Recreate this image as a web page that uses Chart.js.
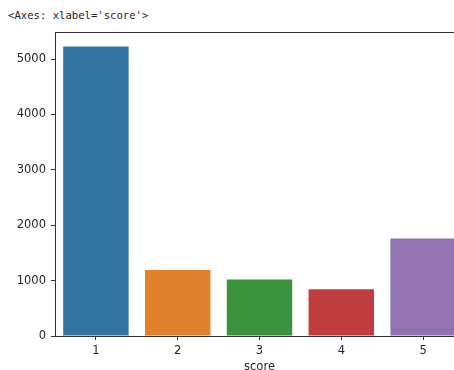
<!DOCTYPE html>
<html>
<head>
<meta charset="utf-8">
<script src="https://cdn.jsdelivr.net/npm/chart.js@4"></script>
<style>
  html, body { margin: 0; padding: 0; background: #fff; overflow: hidden; width: 454px; height: 370px; }
  #cap { position: absolute; left: 8px; top: 9px; font: 10.6px "DejaVu Sans Mono", monospace; color: #222; white-space: pre; }
  #wrap { position: absolute; left: 0; top: 0; width: 475px; height: 370px; }
</style>
</head>
<body>
<div id="cap">&lt;Axes: xlabel='score'&gt;</div>
<div id="wrap"><canvas id="grafico" width="475" height="370"></canvas></div>
<script>
// datos del countplot
const categorias = ["1", "2", "3", "4", "5"];
const conteos = [5230, 1190, 1020, 845, 1763];
const colores = ["#3274a1", "#e1812c", "#3a923a", "#c03d3e", "#9372b2"];
const yTicks = [0, 1000, 2000, 3000, 4000, 5000];
const yMax = 5490;

const tinta = '#333';
const fuente = { family: 'DejaVu Sans', size: 11.5 };

// marco completo de los ejes (como matplotlib)
const marco = {
    id: 'marco',
    afterDraw(chart) {
        const { ctx, chartArea: a } = chart;
        ctx.save();
        ctx.strokeStyle = tinta;
        ctx.lineWidth = 1;
        ctx.strokeRect(Math.round(a.left) + 0.5, Math.round(a.top) + 0.5,
            Math.round(a.right - a.left), Math.round(a.bottom - a.top));
        ctx.restore();
    }
};

const ctx = document.getElementById('grafico').getContext('2d');
new Chart(ctx, {
    type: 'bar',
    data: {
        labels: categorias,
        datasets: [{
            data: conteos,
            backgroundColor: colores,
            borderWidth: 0,
            barPercentage: 0.8,
            categoryPercentage: 1.0
        }]
    },
    options: {
        responsive: false,
        animation: false,
        layout: { padding: { top: 32, right: 11, left: 0, bottom: 0 } },
        plugins: { legend: { display: false }, tooltip: { enabled: false } },
        scales: {
            x: {
                grid: { display: true, offset: false, drawOnChartArea: false, drawTicks: true, tickLength: 4, color: tinta },
                border: { display: true, color: tinta },
                ticks: { color: '#262626', font: fuente, padding: 4 },
                title: { display: true, text: 'score', color: '#262626', font: fuente, padding: { top: 0, bottom: -4 } },
                afterFit: s => { s.height = 34; }
            },
            y: {
                min: 0,
                max: yMax,
                afterBuildTicks: s => { s.ticks = yTicks.map(v => ({ value: v })); },
                grid: { display: true, drawOnChartArea: false, drawTicks: true, tickLength: 4, color: tinta },
                border: { display: true, color: tinta },
                ticks: { color: '#262626', font: fuente, padding: 5, callback: v => String(v) },
                afterFit: s => { s.width = 55; }
            }
        }
    },
    plugins: [marco]
});
</script>
</body>
</html>
